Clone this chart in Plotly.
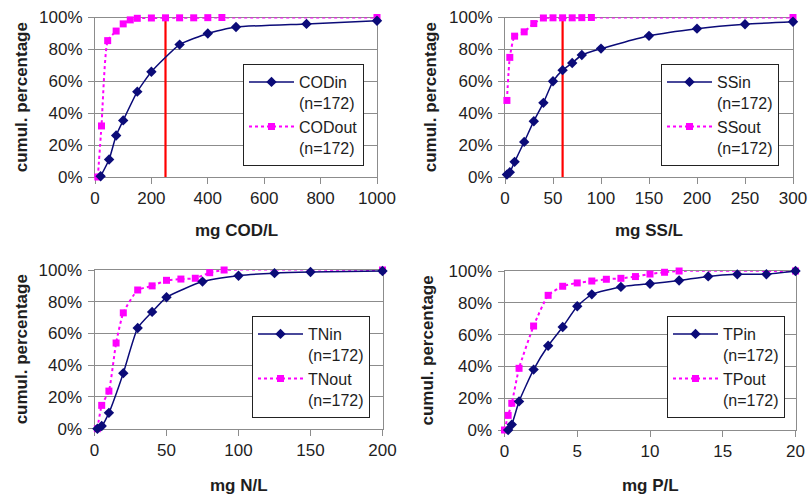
import plotly.graph_objects as go

# ---------------- data ----------------
cod_in_x = [20, 50, 75, 100, 150, 200, 300, 400, 500, 750, 1000]
cod_in_y = [0.5, 11, 26, 35.5, 53.5, 66, 83, 90, 94, 96, 98]
cod_out_x = [10, 23, 45, 75, 100, 125, 150, 200, 250, 300, 350, 400, 450, 1000]
cod_out_y = [0, 32, 85.5, 91.5, 96, 98.5, 99.5, 99.7, 99.8, 99.8, 99.8, 99.9, 100, 100]
cod_limit = 250

ss_in_x = [2, 5, 10, 20, 30, 40, 50, 60, 70, 80, 100, 150, 200, 250, 300]
ss_in_y = [1.5, 3, 9.5, 22, 35, 46.5, 60, 67, 71.5, 76.5, 80.5, 88.5, 93, 95.8, 97.3]
ss_out_x = [2, 5, 10, 20, 30, 40, 50, 60, 70, 80, 90, 300]
ss_out_y = [48, 75, 88.3, 91, 96.2, 99.7, 99.8, 99.8, 99.8, 99.9, 100, 100]
ss_limit = 60

tn_in_x = [2, 5, 10, 20, 30, 40, 50, 75, 100, 125, 150, 200]
tn_in_y = [0, 1.7, 10, 35, 63.5, 73.6, 82.8, 92.7, 96.4, 98, 98.7, 99.4]
tn_out_x = [2, 5, 10, 15, 20, 30, 40, 50, 60, 70, 80, 90, 200]
tn_out_y = [0, 14.7, 23.7, 54, 73, 87.4, 90, 93.5, 94.3, 94.8, 98.3, 100, 100]

tp_in_x = [0.25, 0.5, 1, 2, 3, 4, 5, 6, 8, 10, 12, 14, 16, 18, 20]
tp_in_y = [0, 3.4, 18, 38, 53, 64.8, 77.8, 85.3, 90, 92, 94, 96.6, 97.9, 98, 100]
tp_out_x = [0, 0.25, 0.5, 1, 2, 3, 4, 5, 6, 7, 8, 9, 10, 11, 12, 20]
tp_out_y = [0, 9.2, 16.8, 38.8, 65.4, 84.7, 90.4, 92.5, 93.7, 94.8, 95.4, 96.5, 98.1, 99.2, 100, 100]

in_names = ["CODin", "SSin", "TNin", "TPin"]
out_names = ["CODout", "SSout", "TNout", "TPout"]
n_samples = [172, 172, 172, 172]
x_titles = ["mg COD/L", "mg SS/L", "mg N/L", "mg P/L"]
x_ranges = [[0, 1000], [0, 300], [0, 200], [0, 20]]
x_dticks = [200, 50, 50, 5]
y_title = "cumul. percentage"

# ---------------- styling / layout ----------------
W, H = 809, 494
NAVY = "#0b0b78"
PINK = "#ff00ff"
RED = "#ff0000"
GRID = "#8c8c8c"
TXT = "#1e1e1e"
FONT = "Liberation Sans, Arial, sans-serif"

# plot areas in pixels: (left, right, top, bottom)
boxes = [(95, 377, 17.5, 177), (505, 793, 17.5, 177),
         (94.5, 382.5, 270, 428.7), (504.5, 795.5, 271, 430)]
legend_pos = [(243, 64), (661, 64), (252, 316), (667, 316)]
ytitle_x = [21, 430, 21, 427]
xtitle_y = [230, 230, 485, 485]

series = [
    (cod_in_x, cod_in_y, cod_out_x, cod_out_y, cod_limit),
    (ss_in_x, ss_in_y, ss_out_x, ss_out_y, ss_limit),
    (tn_in_x, tn_in_y, tn_out_x, tn_out_y, None),
    (tp_in_x, tp_in_y, tp_out_x, tp_out_y, None),
]

fig = go.Figure()
annotations = []
for i, (xi, yi, xo, yo, lim) in enumerate(series):
    k = "" if i == 0 else str(i + 1)
    xa, ya = "x" + k, "y" + k
    leg = "legend" + k
    if lim is not None:
        fig.add_trace(go.Scatter(x=[lim, lim], y=[0, 100], mode="lines",
                                 line=dict(color=RED, width=2.2),
                                 xaxis=xa, yaxis=ya, showlegend=False,
                                 cliponaxis=False, hoverinfo="skip"))
    fig.add_trace(go.Scatter(x=xo, y=yo, mode="lines+markers",
                             name=f"{out_names[i]}<br>(n={n_samples[i]})",
                             line=dict(color=PINK, width=2, dash="dot", shape="spline", smoothing=0.5),
                             marker=dict(symbol="square", size=7, color=PINK),
                             xaxis=xa, yaxis=ya, legend=leg, cliponaxis=False,
                             legendrank=2))
    fig.add_trace(go.Scatter(x=xi, y=yi, mode="lines+markers",
                             name=f"{in_names[i]}<br>(n={n_samples[i]})",
                             line=dict(color=NAVY, width=1.5, shape="spline", smoothing=0.5),
                             marker=dict(symbol="diamond", size=8, color=NAVY),
                             xaxis=xa, yaxis=ya, legend=leg, cliponaxis=False,
                             legendrank=1))

    l, r, t, b = boxes[i]
    axis_common = dict(showline=True, linecolor=GRID, linewidth=1, mirror=True,
                       ticks="outside", ticklen=6, tickcolor=GRID,
                       tickfont=dict(family=FONT, size=17, color=TXT),
                       zeroline=False, automargin=False, layer="below traces")
    fig.layout["xaxis" + k] = dict(domain=[l / W, r / W], anchor=ya, range=x_ranges[i],
                                   dtick=x_dticks[i], tick0=0, showgrid=False, **axis_common)
    fig.layout["yaxis" + k] = dict(domain=[1 - b / H, 1 - t / H], anchor=xa, range=[0, 100],
                                   dtick=20, ticksuffix="%", showgrid=True, gridcolor=GRID,
                                   gridwidth=1, ticklabelstandoff=2, **axis_common)
    lx, ly = legend_pos[i]
    fig.layout[leg] = dict(x=lx / W, y=1 - ly / H, xanchor="left", yanchor="top",
                           bgcolor="white", bordercolor="#222222", borderwidth=1,
                           font=dict(family=FONT, size=16, color=TXT),
                           itemwidth=45, valign="top", traceorder="normal",
                           tracegroupgap=0)
    annotations.append(dict(text=f"<b>{x_titles[i]}</b>", xref="paper", yref="paper",
                            x=(l + r) / 2 / W, y=1 - xtitle_y[i] / H, showarrow=False,
                            xanchor="center", yanchor="middle",
                            font=dict(family=FONT, size=17, color=TXT)))
    annotations.append(dict(text=f"<b>{y_title}</b>", xref="paper", yref="paper",
                            x=ytitle_x[i] / W, y=1 - (t + b) / 2 / H, showarrow=False,
                            textangle=-90, xanchor="center", yanchor="middle",
                            font=dict(family=FONT, size=17, color=TXT)))

fig.update_layout(width=W, height=H, margin=dict(l=0, r=0, t=0, b=0),
                  paper_bgcolor="white", plot_bgcolor="white",
                  annotations=annotations, hovermode=False)
# remove the browser's default page margin so the figure sits at the window's corner
post = "document.body.style.margin='0';document.body.style.overflow='hidden';"
fig.write_html("out.html", post_script=post, config={"displayModeBar": False})
